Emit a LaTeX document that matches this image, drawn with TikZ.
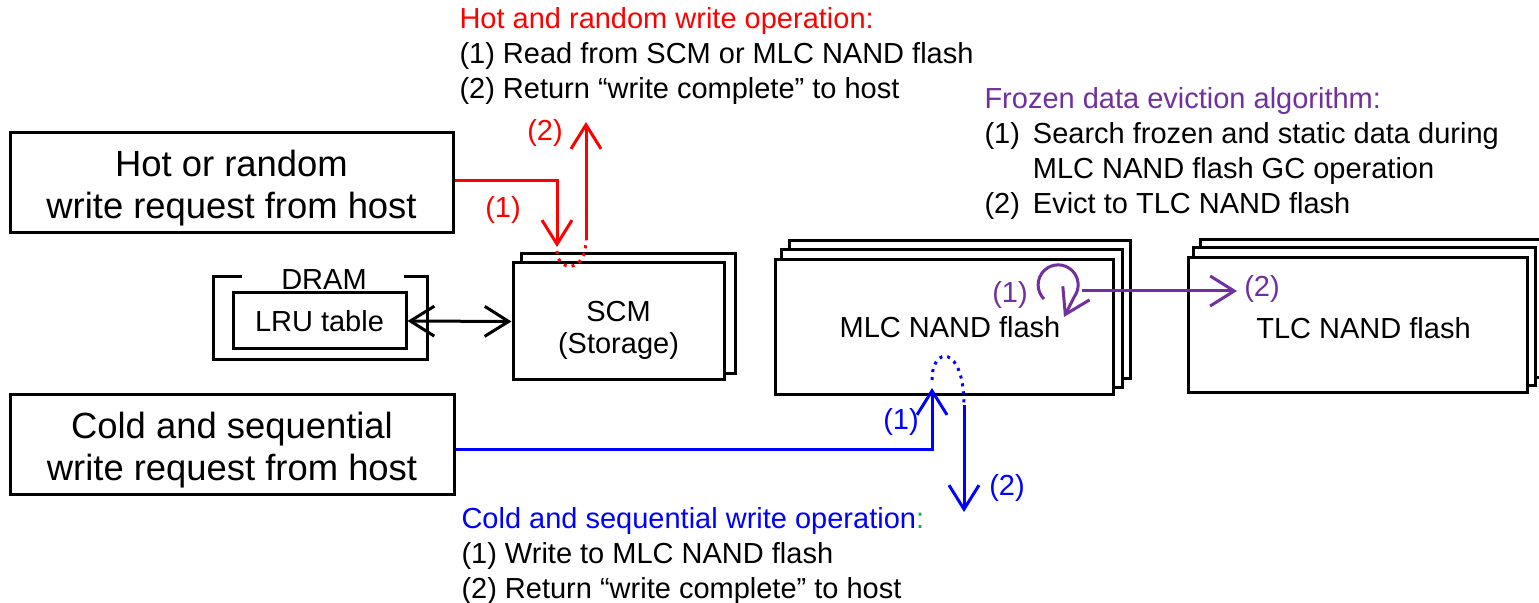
\documentclass[tikz,border=0pt]{standalone}
\usepackage{fontspec}
\setmainfont{Liberation Sans}
\usetikzlibrary{arrows.meta,backgrounds}
\definecolor{hotred}{RGB}{255,0,0}
\definecolor{coldblue}{RGB}{0,0,255}
\definecolor{evpurple}{RGB}{112,48,160}
\definecolor{colongreen}{RGB}{0,176,80}
\newcommand{\bigtxt}{\fontsize{18.2}{21}\selectfont}
\newcommand{\medtxt}{\fontsize{14.5}{17.5}\selectfont}
\begin{document}
\begin{tikzpicture}[x=0.5pt, y=-0.5pt, line width=1.5pt,
    hostbox/.style={draw, fill=white, inner sep=0pt, align=center, font=\bigtxt},
    unitbox/.style={draw, fill=white, inner sep=0pt, align=center, font=\medtxt},
    sheet/.style={draw, fill=white, line width=1.5pt},
    flow/.style={-{Straight Barb[length=12pt,width=15pt]}},
    dotline/.style={dash pattern=on 1.5pt off 2.5pt},
    lbl/.style={font=\medtxt, inner sep=0pt}]
  \useasboundingbox (0,0) rectangle (1539,603);

  % host requests
  \node[hostbox, minimum width=221.5pt, minimum height=50pt] (hot) at (231.5,183) {\rule{0pt}{18pt}Hot or random\\write request from host};
  \node[hostbox, minimum width=222pt, minimum height=50pt] (cold) at (232,445) {\rule{0pt}{18pt}Cold and sequential\\write request from host};

  % DRAM with LRU table
  \node[unitbox, minimum width=86.5pt, minimum height=28pt] (lru) at (319.5,321) {LRU table};
  \node[lbl] (dram) at (324,280) {DRAM};
  \draw (242,277) -| (213,360) -| (427,277) -- (404,277);

  % storage
  \node[unitbox, minimum width=105.5pt, minimum height=58.5pt, font=\fontsize{14.5}{16}\selectfont] (scm) at (618.5,321.5) {\rule{0pt}{19.5pt}SCM\\(Storage)};
  \node[unitbox, minimum width=169pt, minimum height=67.5pt] (mlc) at (944,327.5) {\hspace{6pt}MLC NAND flash};
  \node[unitbox, minimum width=169.5pt, minimum height=67.5pt] (tlc) at (1357.5,325.5) {\rule{0pt}{13.5pt}\hspace{6pt}TLC NAND flash};
  \begin{scope}[on background layer]
    \foreach \k in {2,1} {
      \path[sheet] ([shift={(8*\k,-9*\k)}]mlc.south west) rectangle ([shift={(8*\k,-9*\k)}]mlc.north east);
      \path[sheet] ([shift={(7*\k,-8.5*\k)}]tlc.south west) rectangle ([shift={(7*\k,-8.5*\k)}]tlc.north east);
    }
    \path[sheet] ([shift={(10,-7.5)}]scm.south west) rectangle ([shift={(10,-7.5)}]scm.north east);
  \end{scope}

  \draw[{Straight Barb[length=12pt,width=15pt]}-{Straight Barb[length=12pt,width=15pt]}] (lru.east) -- (scm.west);

  % hot and random write
  \coordinate (hotin) at (557,247);
  \coordinate (hotback) at (586,240);
  \coordinate (hotret) at (586,122);
  \draw[hotred, flow] ([yshift=1pt]hot.east) -| (hotin);
  \draw[hotred, dotline] ([yshift=-2pt]hotin) .. controls +(0,21) and +(0,34) .. (hotback);
  \draw[hotred, flow] (hotback) -- (hotret);
  \node[lbl, text=hotred] (hotone) at (503,210) {(1)};
  \node[lbl, text=hotred] (hottwo) at (545,133) {(2)};

  % cold and sequential write
  \coordinate (coldin) at (932,388);
  \coordinate (coldback) at (964,405);
  \coordinate (coldret) at (964,512);
  \draw[coldblue, flow] ([yshift=-2.5pt]cold.east) -| (coldin);
  \draw[coldblue, dotline] ([yshift=4pt]coldin) .. controls +(0,-35) and +(0,-60) .. (coldback);
  \draw[coldblue, flow] (coldback) -- (coldret);
  \node[lbl, text=coldblue] (coldone) at (901,422) {(1)};
  \node[lbl, text=coldblue] (coldtwo) at (1007,488) {(2)};

  % frozen data eviction
  \coordinate (gcstart) at (1044,299);
  \coordinate (gcend) at (1064,317);
  \draw[evpurple, flow] (gcstart) arc[start angle=135, end angle=395, radius=20] -- (gcend);
  \coordinate (evfrom) at (1082,291);
  \coordinate (evto) at (1237,291);
  \draw[evpurple, flow] (evfrom) -- (evto);
  \node[lbl, text=evpurple] (evone) at (1010,295) {(1)};
  \node[lbl, text=evpurple] (evtwo) at (1262,289) {(2)};

  % operation texts
  \node[lbl, anchor=base west] (hotops) at (458,28.5) {\begin{tabular}[t]{@{}l@{}}\textcolor{hotred}{Hot and random write operation:}\\(1) Read from SCM or MLC NAND flash\\(2) Return “write complete” to host\end{tabular}};
  \node[lbl, anchor=base west] (evops) at (983,108.5) {\begin{tabular}[t]{@{}l@{\hspace{6.5pt}}l@{}}\multicolumn{2}{@{}l@{}}{\textcolor{evpurple}{Frozen data eviction algorithm:}}\\(1)&Search frozen and static data during\\&MLC NAND flash GC operation\\(2)&Evict to TLC NAND flash\end{tabular}};
  \node[lbl, anchor=base west] (coldops) at (460,528.5) {\begin{tabular}[t]{@{}l@{}}\textcolor{coldblue}{Cold and sequential write operation}\textcolor{colongreen}{:}\\(1) Write to MLC NAND flash\\(2) Return “write complete” to host\end{tabular}};
\end{tikzpicture}
\end{document}
